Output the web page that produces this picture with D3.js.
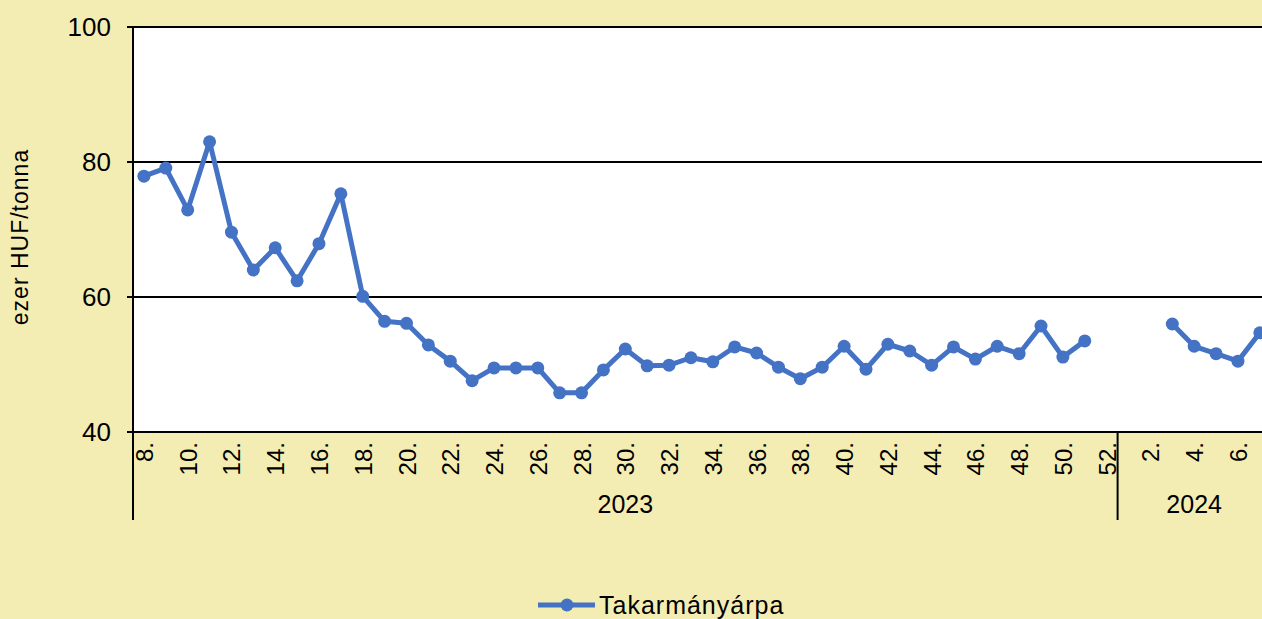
<!DOCTYPE html>
<html>
<head>
<meta charset="utf-8">
<script src="https://cdn.jsdelivr.net/npm/d3@7"></script>
<style>
  body { margin: 0; background: #F4EDB3; }
  svg { display: block; }
</style>
</head>
<body>
<svg id="chart" width="1262" height="619"></svg>
<script>
// week labels (2023 wk 8 .. 2024 wk 7)
var weeks2023 = d3.range(8, 53);
var weeks2024 = d3.range(1, 8);
var years = ["2023", "2024"];

// ezer HUF/tonna, null where no price
var values2023 = [77.9, 79.1, 72.9, 83.0, 69.6, 64.0, 67.3, 62.4, 67.9, 75.3,
                  60.1, 56.4, 56.1, 52.9, 50.5, 47.6, 49.5, 49.5, 49.5, 45.8,
                  45.8, 49.2, 52.3, 49.8, 49.9, 51.0, 50.4, 52.6, 51.7, 49.6,
                  47.9, 49.6, 52.7, 49.3, 53.0, 52.0, 49.9, 52.6, 50.8, 52.7,
                  51.6, 55.7, 51.1, 53.5, null];
var values2024 = [null, null, 56.0, 52.7, 51.6, 50.5, 54.7];
var yTicks = [40, 60, 80, 100];
var seriesName = "Takarmányárpa";

var data = [];
weeks2023.forEach(function(w, i) { data.push({key: "2023-" + w, week: w, year: "2023", v: values2023[i]}); });
weeks2024.forEach(function(w, i) { data.push({key: "2024-" + w, week: w, year: "2024", v: values2024[i]}); });

var margin = {top: 27, left: 133},
    step = 21.88,
    plotBottom = 432;

var svg = d3.select("#chart");
var font = "'Liberation Sans', Arial, sans-serif";

var x = d3.scaleBand()
  .domain(data.map(function(d) { return d.key; }))
  .range([margin.left, margin.left + data.length * step])
  .paddingInner(0).paddingOuter(0);

var y = d3.scaleLinear()
  .domain([40, 100])
  .range([plotBottom, margin.top]);

// plot area
svg.append("rect")
  .attr("x", margin.left).attr("y", margin.top)
  .attr("width", 1262 - margin.left).attr("height", plotBottom - margin.top)
  .attr("fill", "#ffffff");

// gridlines
svg.append("g")
  .selectAll("line")
  .data(yTicks)
  .enter().append("line")
  .attr("x1", margin.left - 6).attr("x2", 1262)
  .attr("y1", function(d) { return y(d); })
  .attr("y2", function(d) { return y(d); })
  .attr("stroke", "#000").attr("stroke-width", 2);

// y tick labels
svg.append("g")
  .selectAll("text")
  .data(yTicks)
  .enter().append("text")
  .attr("x", 111)
  .attr("y", function(d) { return y(d) + 9; })
  .attr("text-anchor", "end")
  .attr("font-family", font)
  .attr("font-size", "26px")
  .text(function(d) { return d; });

// y axis line (runs down through category labels)
svg.append("line")
  .attr("x1", margin.left).attr("x2", margin.left)
  .attr("y1", margin.top).attr("y2", 520)
  .attr("stroke", "#000").attr("stroke-width", 2);

// year separator
var firstOf2024 = x("2024-1");
svg.append("line")
  .attr("x1", firstOf2024).attr("x2", firstOf2024)
  .attr("y1", plotBottom).attr("y2", 520)
  .attr("stroke", "#000").attr("stroke-width", 2);

// week labels (every second)
svg.append("g")
  .selectAll("text")
  .data(data.filter(function(d) { return d.week % 2 === 0; }))
  .enter().append("text")
  .attr("transform", function(d) {
    return "translate(" + (x(d.key) + x.bandwidth() / 2 + 9) + "," + 442 + ") rotate(-90)";
  })
  .attr("text-anchor", "end")
  .attr("font-family", font)
  .attr("font-size", "24px")
  .text(function(d) { return d.week + "."; });

// year labels
years.forEach(function(yr) {
  var ks = data.filter(function(d) { return d.year === yr; });
  var x0 = x(ks[0].key), x1 = x(ks[ks.length - 1].key) + x.bandwidth();
  svg.append("text")
    .attr("x", (x0 + x1) / 2).attr("y", 513)
    .attr("text-anchor", "middle")
    .attr("font-family", font)
    .attr("font-size", "25px")
    .text(yr);
});

// y axis title
svg.append("text")
  .attr("transform", "translate(28,237) rotate(-90)")
  .attr("text-anchor", "middle")
  .attr("font-family", font)
  .attr("font-size", "23px")
  .attr("letter-spacing", "1px")
  .text("ezer HUF/tonna");

// series
var color = "#4472C4";
var line = d3.line()
  .defined(function(d) { return d.v !== null; })
  .x(function(d) { return x(d.key) + x.bandwidth() / 2; })
  .y(function(d) { return y(d.v); });

svg.append("path")
  .datum(data)
  .attr("d", line)
  .attr("fill", "none")
  .attr("stroke", color)
  .attr("stroke-width", 5)
  .attr("stroke-linejoin", "round");

svg.append("g")
  .selectAll("circle")
  .data(data.filter(function(d) { return d.v !== null; }))
  .enter().append("circle")
  .attr("cx", function(d) { return x(d.key) + x.bandwidth() / 2; })
  .attr("cy", function(d) { return y(d.v); })
  .attr("r", 6.5)
  .attr("fill", color);

// legend
var lg = svg.append("g");
lg.append("line")
  .attr("x1", 538).attr("x2", 595).attr("y1", 605).attr("y2", 605)
  .attr("stroke", color).attr("stroke-width", 5);
lg.append("circle").attr("cx", 567).attr("cy", 605).attr("r", 6.5).attr("fill", color);
lg.append("text")
  .attr("x", 599).attr("y", 614)
  .attr("font-family", font)
  .attr("font-size", "25px")
  .attr("letter-spacing", "1px")
  .text(seriesName);
</script>
</body>
</html>
